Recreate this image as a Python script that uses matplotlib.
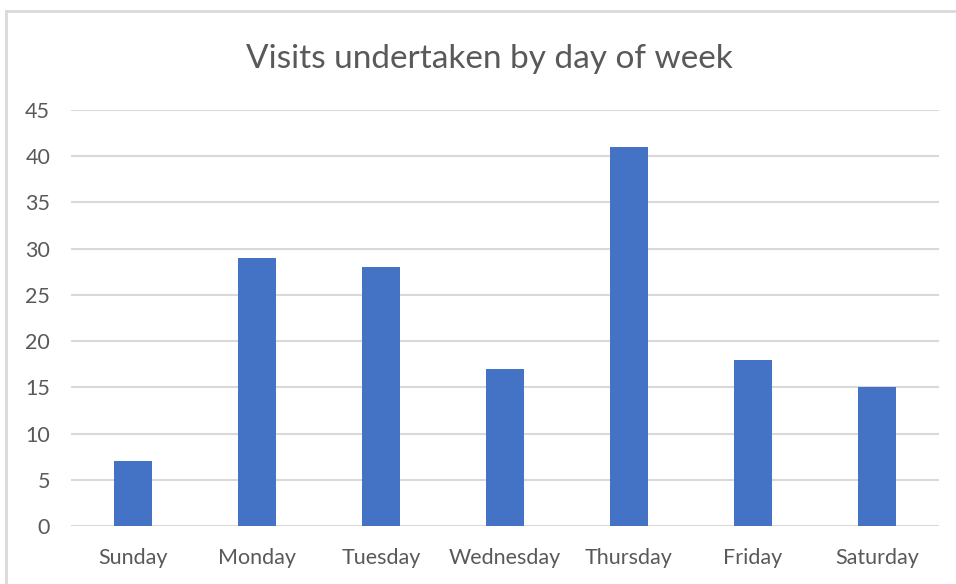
import matplotlib
matplotlib.use("Agg")
import matplotlib.pyplot as plt
from matplotlib.lines import Line2D

days = ['Sunday', 'Monday', 'Tuesday', 'Wednesday', 'Thursday', 'Friday', 'Saturday']
visits = [7, 29, 28, 17, 41, 18, 15]
y_ticks = [0, 5, 10, 15, 20, 25, 30, 35, 40, 45]

plt.rcParams['font.family'] = ['Lato', 'DejaVu Sans']

fig = plt.figure(figsize=(9.56, 5.84), dpi=100)
ax = fig.add_axes([0.0743, 0.0993, 0.9077, 0.7123])

ax.bar(range(len(days)), visits, width=0.31, color='#4472C4', zorder=3)

ax.set_xlim(-0.5, len(days) - 0.5)
ax.set_ylim(0, 45)
ax.set_yticks(y_ticks)
ax.set_xticks(range(len(days)))
ax.set_xticklabels(days)
ax.grid(axis='y', color='#d9d9d9', linewidth=1.5, zorder=0)
ax.tick_params(length=0, labelsize=15.5, colors='#595959')
ax.tick_params(axis='x', pad=16)
ax.tick_params(axis='y', pad=15)
for s in ax.spines.values():
    s.set_visible(False)

fig.text(0.512, 0.899, 'Visits undertaken by day of week', ha='center', va='center',
         fontsize=24, color='#595959')

# chart border (top and left visible)
fig.add_artist(Line2D([0.0063, 1.0], [0.981, 0.981], color='#d9d9d9', linewidth=2))
fig.add_artist(Line2D([0.0063, 0.0063], [0.0, 0.981], color='#d9d9d9', linewidth=2))

fig.savefig('out.png', dpi=100)
